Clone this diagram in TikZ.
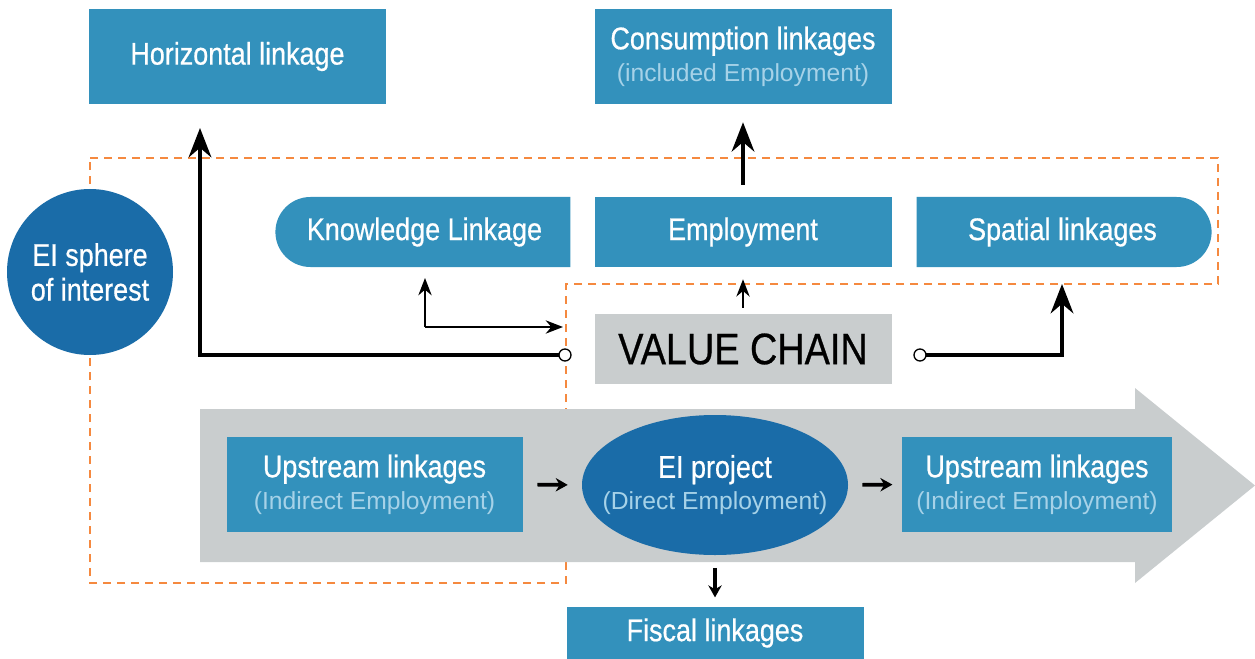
\documentclass[tikz,border=0pt]{standalone}
\usepackage{fontspec}
\setmainfont{Liberation Sans}[FakeStretch=0.86,FakeBold=0.6]
\newfontfamily\subfont{Liberation Sans}
\usetikzlibrary{arrows.meta,shapes.misc,shapes.geometric}

\definecolor{boxblue}{HTML}{3391BC}
\definecolor{darkblue}{HTML}{1A6CA8}
\definecolor{chaingray}{HTML}{C9CDCE}
\definecolor{dashorange}{HTML}{F5893F}
\definecolor{subtext}{HTML}{A6D2E8}

\tikzset{
 box/.style={fill=boxblue,text=white,inner sep=0pt,minimum width=222.75pt,minimum height=71.25pt,align=center,font=\fontsize{23.5}{25}\selectfont},
 slim/.style={minimum height=52.5pt},
 lefty/.style={rounded rectangle,rounded rectangle right arc=none},
 righty/.style={rounded rectangle,rounded rectangle left arc=none},
 thickarr/.style={line width=2.8pt,-{Stealth[length=22pt,width=17pt]}},
 thinarr/.style={line width=1.3pt,-{Stealth[length=13pt,width=10pt]}},
 smallarr/.style={line width=2.8pt,-{Stealth[length=9pt,width=10pt]}},
}
\newcommand{\sub}[1]{\\[-1pt]{\subfont\fontsize{18.5}{20}\selectfont\color{subtext}#1}}

\begin{document}
\begin{tikzpicture}[x=0.75pt,y=-0.75pt]
 \useasboundingbox (0,0) rectangle (1255,659);

 % sphere of interest (dashed border)
 \draw[dashorange,line width=1.6pt,dash pattern=on 6pt off 4.5pt]
  (90,158) -- (1218,158) -- (1218,284) -- (566,284) -- (566,583) -- (90,583) -- cycle;

 % big grey arrow
 \fill[chaingray] (200,409) -- (1135,409) -- (1135,388) -- (1255,485.5)
  -- (1135,583) -- (1135,562) -- (200,562) -- cycle;

 % top row
 \node[box] (horiz) at (237.5,56.5) {Horizontal linkage};
 \node[box] (consum) at (743,56.5) {Consumption linkages\sub{(included Employment)}};

 % middle row
 \node[box,slim,lefty,minimum width=221.25pt] (know) at (424.5,232) {Knowledge Linkage};
 \node[box,slim] (employ) at (743,232) {Employment};
 \node[box,slim,righty,minimum width=221.25pt] (spatial) at (1062.5,232) {Spatial linkages};

 \node[circle,fill=darkblue,text=white,minimum size=124.5pt,inner sep=-10pt,align=center,
  font=\fontsize{23.5}{26}\selectfont] (sphere) at (90,272) {EI sphere\\of interest};

 \node[box,slim,fill=chaingray,text=black,font=\fontsize{33}{36}\selectfont] (vchain) at (743,349) {VALUE CHAIN};

 % bottom row
 \node[box,minimum width=222pt] (upL) at (374.5,484.5) {Upstream linkages\sub{(Indirect Employment)}};
 \node[ellipse,fill=darkblue,text=white,minimum width=199.5pt,minimum height=105pt,inner xsep=-18pt,inner ysep=0pt,
  align=center,font=\fontsize{23.5}{25}\selectfont] (proj) at (715,485) {EI project\sub{(Direct Employment)}};
 \node[box,minimum width=202.5pt] (upR) at (1037,484.5) {Upstream linkages\sub{(Indirect Employment)}};
 \node[box,slim,minimum height=39pt] (fiscal) at (715,633) {Fiscal linkages};

 % connectors
 \coordinate (dotL) at (565,355);
 \coordinate (dotR) at (920,355);
 \coordinate (horizTip) at (200,128);
 \coordinate (knowCorner) at (425,327);
 \coordinate (knowTip) at (425,278);
 \coordinate (chainTip) at (563,327);
 \coordinate (spatialTip) at (1062,284);

 \draw[thickarr] (dotL) -| (horizTip);
 \draw[thickarr] (dotR) -| (spatialTip);
 \draw[thinarr] (knowCorner) -- (knowTip);
 \draw[thinarr] (knowCorner) -- (chainTip);
 \draw[thinarr,shorten <=4.5pt,shorten >=9pt] (vchain.north) -- (employ.south);
 \draw[thickarr,shorten <=9pt,shorten >=13.5pt] (employ.north) -- (consum.south);

 \draw[smallarr,shorten <=11pt,shorten >=10.5pt] (upL.east) -- (proj.west);
 \draw[smallarr,shorten <=10.5pt,shorten >=7pt] (proj.east) -- (upR.west);
 \draw[smallarr,shorten <=9.5pt,shorten >=7pt] (proj.south) -- (fiscal.north);

 \filldraw[fill=white,draw=black,line width=1pt] (dotL) circle (4.5pt);
 \filldraw[fill=white,draw=black,line width=1pt] (dotR) circle (4.5pt);
\end{tikzpicture}
\end{document}
